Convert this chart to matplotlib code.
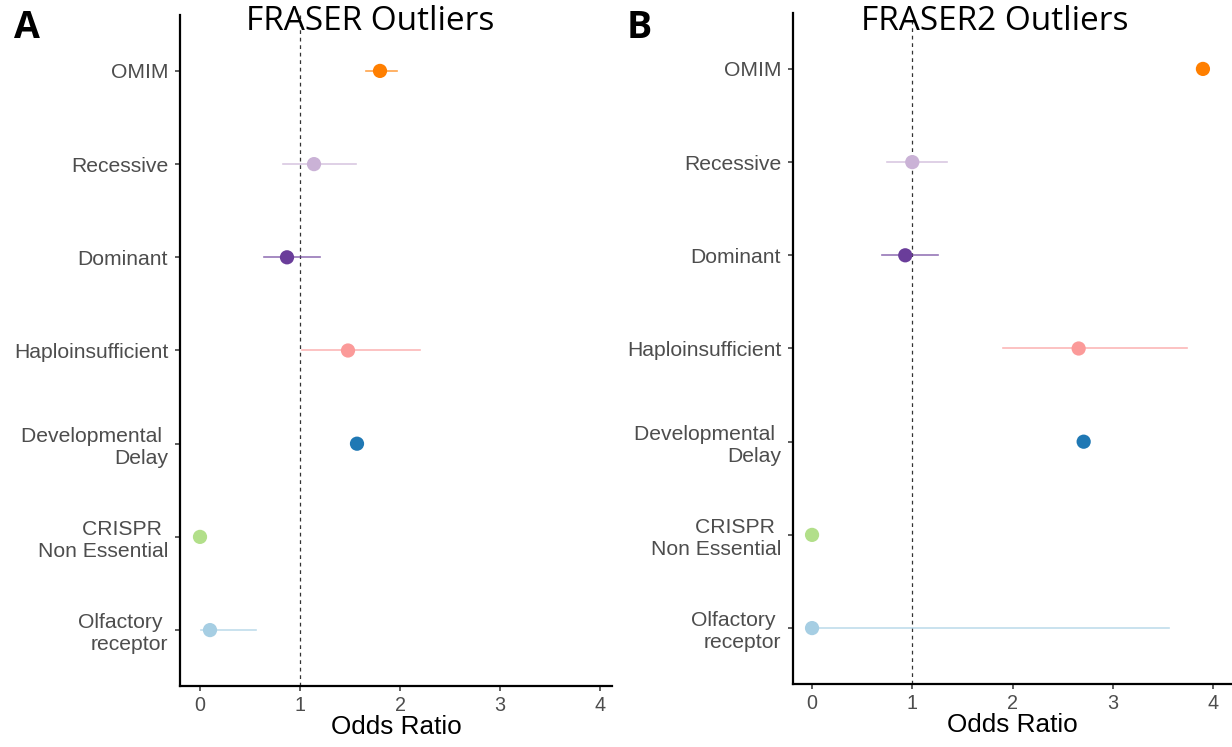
import matplotlib
matplotlib.use("Agg")
import matplotlib.pyplot as plt
import numpy as np

categories = ["OMIM", "Recessive", "Dominant", "Haploinsufficient",
              "Developmental \nDelay", "CRISPR \nNon Essential", "Olfactory \nreceptor"]
colors = ["#FF7F00", "#CAB2D6", "#6A3D9A", "#FB9A99", "#1F78B4", "#B2DF8A", "#A6CEE3"]

# FRASER
or_a = [1.80, 1.14, 0.87, 1.48, 1.57, 0.00, 0.10]
lo_a = [1.66, 0.83, 0.64, 1.02, 1.57, 0.00, 0.01]
hi_a = [1.97, 1.56, 1.20, 2.20, 1.57, 0.00, 0.56]

# FRASER2
or_b = [3.90, 1.00, 0.93, 2.66, 2.71, 0.00, 0.00]
lo_b = [3.90, 0.75, 0.70, 1.91, 2.71, 0.00, 0.00]
hi_b = [3.90, 1.35, 1.26, 3.74, 2.71, 0.00, 3.56]

plt.rcParams['font.family'] = ['Liberation Sans', 'DejaVu Sans']

W, H = 1232, 747
fig = plt.figure(figsize=(W / 100, H / 100), dpi=100)

def panel(rect, xlim, odds, lo, hi):
    ax = fig.add_axes(rect)
    ypos = np.arange(len(categories))[::-1] + 1
    ax.axvline(1, color="#333333", lw=0.9, ls=(0, (3, 3)), zorder=1)
    for y, o, l, h, c in zip(ypos, odds, lo, hi, colors):
        ax.plot([l, h], [y, y], color=c, lw=1.2, alpha=0.7, zorder=2)
        ax.scatter([o], [y], s=105, color=c, edgecolors="none", zorder=3)
    ax.set_xlim(*xlim)
    ax.set_ylim(0.4, 7.6)
    ax.set_yticks(ypos)
    ax.set_yticklabels(categories)
    ax.set_xticks([0, 1, 2, 3, 4])
    for s in ["top", "right"]:
        ax.spines[s].set_visible(False)
    for s in ["left", "bottom"]:
        ax.spines[s].set_linewidth(1.6)
        ax.spines[s].set_color("black")
    ax.tick_params(axis="both", colors="#333333", labelcolor="#4D4D4D",
                   length=3.5, width=1.1)
    ax.tick_params(axis="y", labelsize=15.2, pad=5)
    ax.tick_params(axis="x", labelsize=14.2, pad=4)
    ax.set_xlabel("Odds Ratio", fontsize=18.8, color="black", labelpad=0)
    return ax

panel([180 / W, 1 - 686 / H, 432 / W, 671 / H], (-0.2, 4.12), or_a, lo_a, hi_a)
panel([793 / W, 1 - 684 / H, 439 / W, 671 / H], (-0.19, 4.19), or_b, lo_b, hi_b)

fig.text(370 / W, 1 - 5 / H, "FRASER Outliers", ha="center", va="top",
         fontsize=24, family="Open Sans")
fig.text(995 / W, 1 - 5 / H, "FRASER2 Outliers", ha="center", va="top",
         fontsize=24, family="Open Sans")
fig.text(14 / W, 1 - 9 / H, "A", ha="left", va="top", fontsize=27,
         fontweight="bold", family="Open Sans")
fig.text(627 / W, 1 - 9 / H, "B", ha="left", va="top", fontsize=27,
         fontweight="bold", family="Open Sans")

fig.savefig("out.png", dpi=100)
